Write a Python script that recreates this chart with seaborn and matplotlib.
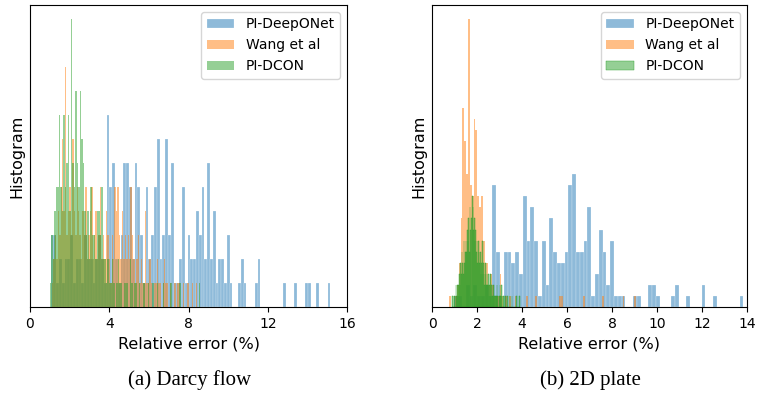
import seaborn as sns
import numpy as np
import pandas as pd
import matplotlib.pyplot as plt

# bin counts (each series has its own bin range)
darcy_deeponet_range = (1.04, 15.15)
darcy_deeponet = [3, 3, 1, 2, 1, 2, 2, 3, 1, 2, 2, 1, 3, 2, 2, 1, 2, 3, 2, 1,
                  8, 5, 6, 2, 1, 3, 6, 6, 5, 2, 6, 5, 3, 1, 5, 2, 3, 5, 7, 2,
                  3, 7, 3, 6, 1, 1, 2, 5, 1, 3, 2, 2, 4, 3, 5, 2, 6, 2, 4, 1,
                  2, 2, 1, 3, 1, 0, 0, 1, 2, 1, 0, 0, 0, 1, 2, 0, 0, 0, 0, 0,
                  0, 0, 0, 1, 0, 0, 0, 1, 0, 0, 0, 1, 1, 0, 0, 1, 0, 0, 0, 1]
darcy_wang_range = (1.1, 8.45)
darcy_wang = [1, 2, 3, 2, 4, 3, 5, 7, 4, 10, 3, 4, 5, 3, 7, 4, 3, 5, 4, 3,
              2, 4, 3, 5, 2, 3, 4, 5, 2, 3, 4, 2, 3, 5, 2, 3, 2, 4, 3, 2,
              1, 3, 2, 5, 4, 5, 3, 2, 4, 2, 3, 2, 3, 2, 5, 3, 2, 1, 2, 3,
              1, 2, 1, 1, 4, 1, 1, 2, 1, 0, 1, 1, 2, 1, 1, 0, 1, 2, 1, 1,
              0, 1, 0, 0, 1, 0, 1, 1, 0, 0, 1, 0, 0, 1, 0, 0, 1, 0, 0, 1]
darcy_dcon_range = (1.0, 8.6)
darcy_dcon = [1, 3, 2, 4, 5, 5, 8, 5, 4, 8, 5, 6, 8, 4, 12, 6, 5, 9, 6, 5,
              9, 7, 6, 4, 3, 4, 2, 5, 3, 3, 2, 4, 4, 3, 5, 2, 2, 1, 2, 1,
              1, 2, 1, 0, 1, 2, 1, 1, 0, 1, 1, 1, 0, 2, 1, 0, 1, 1, 0, 1,
              0, 0, 1, 0, 0, 1, 0, 0, 1, 0, 0, 1, 0, 0, 0, 1, 0, 0, 0, 0,
              1, 0, 0, 0, 0, 0, 1, 0, 0, 0, 0, 0, 0, 0, 0, 0, 0, 0, 0, 1]

plate_deeponet_range = (0.9955, 13.84)
plate_deeponet = [1, 1, 0, 2, 1, 2, 1, 1, 2, 1, 11, 5, 0, 5, 5, 4, 5, 3, 10, 6,
                  9, 6, 1, 6, 2, 8, 5, 4, 4, 5, 11, 12, 5, 5, 6, 9, 1, 3, 7, 5,
                  2, 6, 1, 1, 1, 0, 0, 1, 1, 0, 0, 2, 2, 1, 0, 0, 0, 1, 2, 0,
                  0, 1, 0, 0, 0, 2, 0, 0, 1, 0, 0, 0, 0, 0, 0, 1]
plate_wang_range = (0.77, 9.05)
plate_wang = [1, 0, 0, 1, 2, 4, 8, 18, 15, 12, 26, 11, 10, 17, 16, 10, 9, 10, 6, 4,
              4, 2, 3, 2, 1, 1, 1, 3, 1, 0, 1, 0, 1, 0, 0, 1, 0, 0, 0, 0,
              0, 1, 0, 0, 0, 0, 1, 0, 0, 0, 0, 0, 0, 0, 0, 0, 0, 0, 0, 1,
              1, 0, 0, 0, 0, 0, 0, 0, 0, 0, 0, 0, 1, 0, 0, 0, 0, 0, 0, 0,
              0, 0, 1, 0, 0, 0, 0, 0, 0, 0, 0, 0, 0, 1, 0, 0, 0, 0, 0, 1]
plate_dcon_range = (0.9, 3.9)
plate_dcon = [1, 0, 1, 1, 0, 2, 1, 2, 1, 2, 3, 2, 4, 3, 5, 4, 3, 6, 4, 5,
              6, 5, 7, 6, 8, 5, 9, 7, 8, 10, 9, 7, 8, 6, 7, 5, 6, 4, 6, 5,
              4, 5, 3, 4, 6, 3, 4, 2, 3, 4, 2, 3, 2, 3, 1, 2, 3, 1, 2, 1,
              1, 2, 1, 0, 1, 1, 2, 1, 0, 1, 2, 1, 2, 1, 0, 1, 1, 0, 1, 0,
              0, 1, 0, 0, 0, 1, 0, 0, 1, 0, 0, 0, 0, 0, 0, 1, 0, 0, 0, 1]

labels = ['PI-DeepONet', 'Wang et al', 'PI-DCON']
colors = ['#1f77b4', '#ff7f0e', '#2ca02c']


def draw_hist(ax, counts, rng, color, label):
    edges = np.linspace(rng[0], rng[1], len(counts) + 1)
    width = edges[1] - edges[0]
    if width > 0.1:
        ec, lw = 'white', 0.15
    elif width > 0.05:
        ec, lw = 'none', 0
    else:
        ec, lw = color, 0.3
    df = pd.DataFrame({'err': (edges[:-1] + edges[1:]) / 2, 'n': counts})
    sns.histplot(data=df, x='err', weights='n', bins=list(edges), color=color,
                 alpha=0.5, edgecolor=ec, linewidth=lw, label=label, ax=ax)


fig = plt.figure(figsize=(7.57, 4.09), dpi=100)
ax1 = fig.add_axes([0.0396, 0.2494, 0.419, 0.7384])
ax2 = fig.add_axes([0.5707, 0.2494, 0.416, 0.7384])

panels = [
    (ax1, [(darcy_deeponet, darcy_deeponet_range), (darcy_wang, darcy_wang_range),
           (darcy_dcon, darcy_dcon_range)], (0, 16), [0, 4, 8, 12, 16]),
    (ax2, [(plate_deeponet, plate_deeponet_range), (plate_wang, plate_wang_range),
           (plate_dcon, plate_dcon_range)], (0, 14), list(range(0, 15, 2))),
]

for ax, series, xlim, xticks in panels:
    for (counts, rng), color, label in zip(series, colors, labels):
        draw_hist(ax, counts, rng, color, label)
    ax.set_xlim(*xlim)
    ax.set_xticks(xticks)
    ax.set_yticks([])
    ax.tick_params(axis='x', labelsize=10)
    ax.set_xlabel('Relative error (%)', fontsize=11.5)
    ax.set_ylabel('Histogram', fontsize=11.5)
    ax.legend(loc='upper right', fontsize=10)

fig.text(0.251, 0.071, '(a) Darcy flow', ha='center', va='center',
         family='Liberation Serif', fontsize=15)
fig.text(0.780, 0.071, '(b) 2D plate', ha='center', va='center',
         family='Liberation Serif', fontsize=15)

fig.savefig('out.png', dpi=100)
